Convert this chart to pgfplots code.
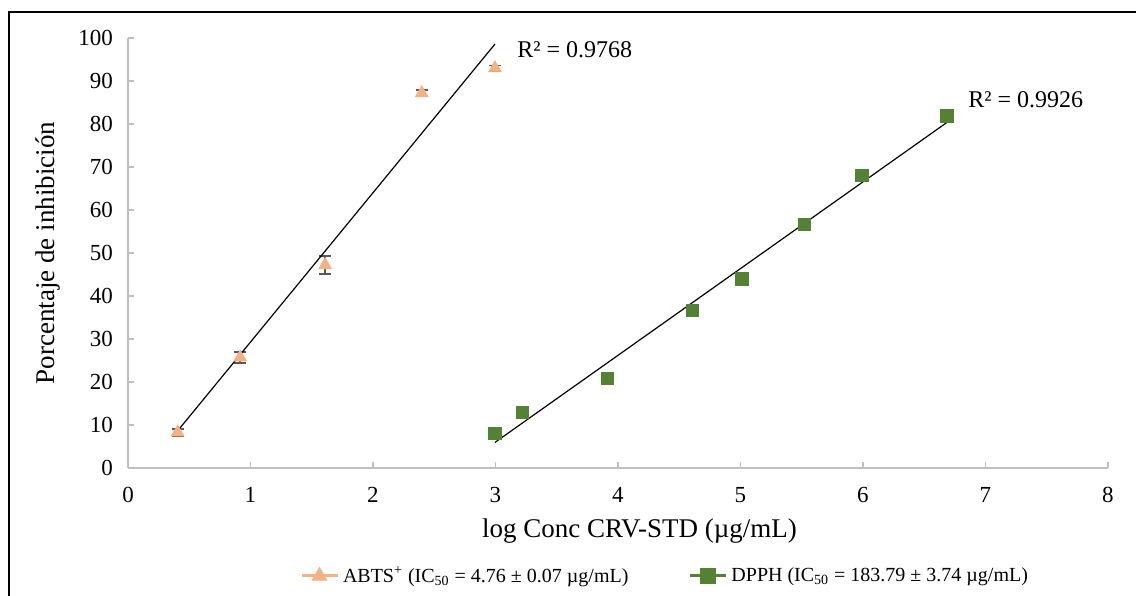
\documentclass[border=0pt]{standalone}
\usepackage{fontspec}
\setmainfont{Liberation Serif}
\usepackage{pgfplots}
\pgfplotsset{compat=1.18}
\definecolor{abts}{HTML}{F4B183}
\definecolor{dpph}{HTML}{548235}
\definecolor{axgray}{HTML}{BFBFBF}
\definecolor{errgray}{HTML}{595959}
\begin{document}
\begin{tikzpicture}
\begin{axis}[
  at={(64pt,63.5pt)}, anchor=south west,
  scale only axis, width=490pt, height=215pt,
  xmin=0, xmax=8, ymin=0, ymax=100,
  xtick={0,1,...,8}, ytick={0,10,...,100},
  axis x line*=bottom, axis y line*=left,
  axis line style={axgray, line width=0.75pt},
  tick style={axgray, line width=0.75pt},
  tick align=inside, major tick length=3pt,
  /pgf/number format/assume math mode=true,
  ticklabel style={font=\fontsize{11.5}{13}\selectfont, text=black},
  xticklabel style={yshift=-6pt},
  yticklabel style={xshift=-4pt},
  xlabel={log Conc CRV-STD (µg/mL)},
  ylabel={Porcentaje de inhibición},
  label style={font=\fontsize{13.5}{15}\selectfont},
  x label style={at={(axis description cs:0.522,-0.147)}, anchor=center},
  y label style={at={(axis description cs:-0.0815,0.50)}, anchor=center},
  legend columns=2,
  legend style={draw=none, fill=none, at={(0.549,-0.251)}, anchor=center,
    font=\fontsize{10}{12}\selectfont,
    /tikz/every even column/.append style={column sep=28pt}},
  clip=false,
]
\addplot[only marks, mark=triangle*, mark size=3.6pt, color=abts,
  error bars/.cd, y dir=both, y explicit,
  error bar style={errgray, line width=0.8pt},
  error mark options={errgray, rotate=90, mark size=3pt, line width=0.8pt},
  /pgfplots/legend image code/.code={
    \draw[abts, line width=1.5pt] (0pt,0pt) -- (18pt,0pt);
    \draw[abts, mark=triangle*, mark size=4.2pt] plot coordinates {(9pt,0pt)};},
  ]
  coordinates {
  (0.405, 8.3) +- (0, 0.8)
  (0.916, 25.7) +- (0, 1.3)
  (1.609, 47.2) +- (0, 2.1)
  (2.398, 87.2) +- (0, 0.7)
  (2.996, 93.0) +- (0, 0.65)
  };
\addlegendentry{ABTS\textsuperscript{+} (IC\textsubscript{50} = 4.76 ± 0.07 µg/mL)}
\addplot[only marks, mark=square*, mark size=3.1pt, color=dpph,
  legend image code/.code={
    \draw[dpph, line width=1.5pt] (0pt,0pt) -- (18pt,0pt);
    \draw[dpph, mark=square*, mark size=3.8pt] plot coordinates {(9pt,0pt)};}]
  coordinates {
  (2.996, 8.0) (3.219, 12.9) (3.912, 20.8) (4.605, 36.7)
  (5.011, 44.0) (5.521, 56.7) (5.991, 68.1) (6.685, 81.9)
  };
\addlegendentry{DPPH (IC\textsubscript{50} = 183.79 ± 3.74 µg/mL)}
\addplot[black, line width=0.6pt, forget plot] coordinates {(0.405, 8.63) (2.996, 98.6)};
\addplot[black, line width=0.6pt, forget plot] coordinates {(2.996, 5.95) (6.685, 80.36)};
\node[anchor=west, inner sep=0pt, font=\fontsize{12}{14}\selectfont] at (axis cs:3.176,97.2) {R² = 0.9768};
\node[anchor=west, inner sep=0pt, font=\fontsize{12}{14}\selectfont] at (axis cs:6.857,85.6) {R² = 0.9926};
\end{axis}
\draw[line width=1.4pt] (4.5pt,-5pt) -- (4.5pt,291.5pt) -- (580pt,291.5pt);
\pgfresetboundingbox
\useasboundingbox (0,0) rectangle (568pt,297.5pt);
\end{tikzpicture}
\end{document}
